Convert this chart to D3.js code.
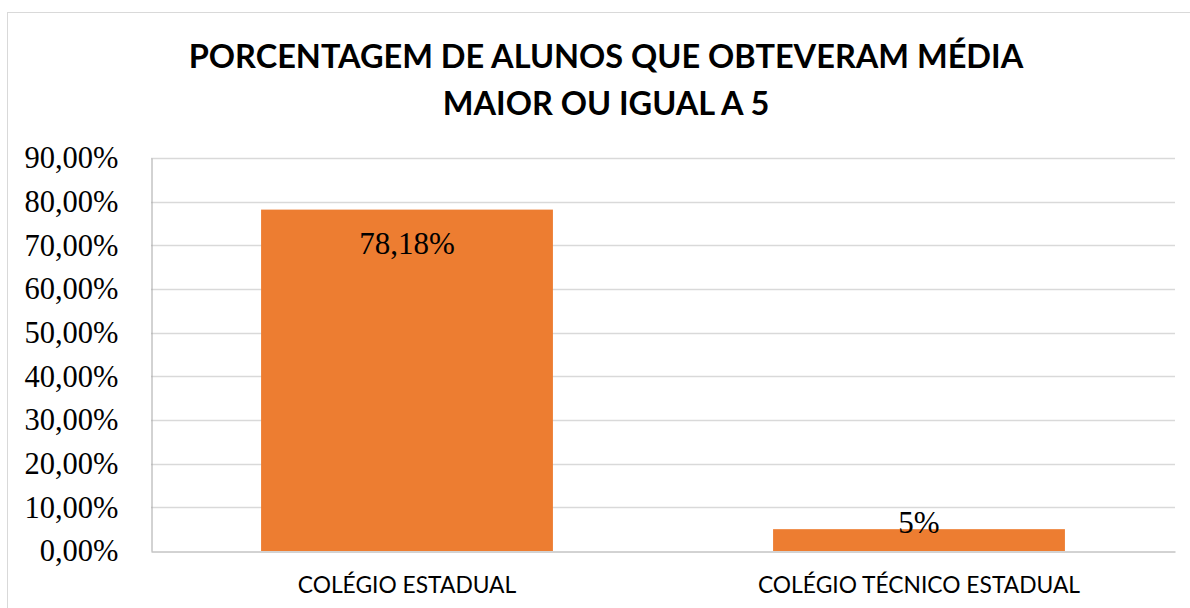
<!DOCTYPE html>
<html>
<head>
<meta charset="utf-8">
<script src="https://cdn.jsdelivr.net/npm/d3@7"></script>
<style>
  body { margin: 0; background: #fff; }
</style>
</head>
<body>
<div id="chart"></div>
<script>
const categories = ["COLÉGIO ESTADUAL", "COLÉGIO TÉCNICO ESTADUAL"];
const values = [0.7818, 0.05];
const valueLabels = ["78,18%", "5%"];
const yTicks = [0, 0.1, 0.2, 0.3, 0.4, 0.5, 0.6, 0.7, 0.8, 0.9];
const titleLines = ["PORCENTAGEM DE ALUNOS QUE OBTEVERAM MÉDIA", "MAIOR OU IGUAL A 5"];

const width = 1190, height = 608;
const margin = { top: 158, right: 15, bottom: 57, left: 151 };

const svg = d3.select("#chart").append("svg")
    .attr("width", width)
    .attr("height", height);

// outer chart border
svg.append("rect")
    .attr("x", 7.5).attr("y", 12.5)
    .attr("width", width).attr("height", height)
    .attr("fill", "none")
    .attr("stroke", "#d9d9d9");

svg.selectAll("text.title")
    .data(titleLines)
    .join("text")
    .attr("class", "title")
    .attr("x", 606)
    .attr("y", (d, i) => 68 + i * 47)
    .attr("text-anchor", "middle")
    .style("font-family", "Lato, 'Open Sans', sans-serif")
    .style("font-weight", "bold")
    .style("font-size", "32.5px")
    .text(d => d);

const x = d3.scaleBand()
    .domain(categories)
    .range([margin.left, width - margin.right])
    .paddingInner(0.43)
    .paddingOuter(0.215);

const y = d3.scaleLinear()
    .domain([0, 0.9])
    .range([height - margin.bottom, margin.top]);

const fmt = d => d3.format(".2f")(d * 100).replace(".", ",") + "%";

// gridlines
svg.append("g")
    .selectAll("line")
    .data(yTicks.slice(1))
    .join("line")
    .attr("x1", margin.left)
    .attr("x2", width - margin.right)
    .attr("y1", d => Math.round(y(d)) + 0.5)
    .attr("y2", d => Math.round(y(d)) + 0.5)
    .attr("stroke", "#d9d9d9")
    .attr("stroke-width", 1.5);

// y axis
const yAxis = svg.append("g")
    .attr("transform", `translate(${margin.left + 0.5},0)`)
    .call(d3.axisLeft(y).tickValues(yTicks).tickFormat(fmt).tickSize(0).tickPadding(33));
yAxis.select(".domain").attr("stroke", "#a6a6a6");
yAxis.selectAll("text")
    .style("font-family", "'Liberation Serif', 'Times New Roman', serif")
    .style("font-size", "30.5px")
    .attr("fill", "#000");

// bars
svg.append("g")
    .selectAll("rect")
    .data(values)
    .join("rect")
    .attr("x", (d, i) => x(categories[i]))
    .attr("width", x.bandwidth())
    .attr("y", d => y(d))
    .attr("height", d => y(0) - y(d))
    .attr("fill", "#ed7d31");

// x axis
const xAxis = svg.append("g")
    .attr("transform", `translate(0,${y(0) + 0.5})`)
    .call(d3.axisBottom(x).tickSize(0).tickPadding(25));
xAxis.select(".domain").attr("stroke", "#a6a6a6");
xAxis.selectAll("text")
    .style("font-family", "Lato, 'Open Sans', sans-serif")
    .style("font-size", "22.8px")
    .attr("fill", "#000");

// data labels
svg.append("g")
    .selectAll("text")
    .data(values)
    .join("text")
    .attr("x", (d, i) => x(categories[i]) + x.bandwidth() / 2)
    .attr("y", (d, i) => i === 0 ? y(d) + 44 : y(d) + 4)
    .attr("text-anchor", "middle")
    .style("font-family", "'Liberation Serif', 'Times New Roman', serif")
    .style("font-size", "31px")
    .text((d, i) => valueLabels[i]);
</script>
</body>
</html>
